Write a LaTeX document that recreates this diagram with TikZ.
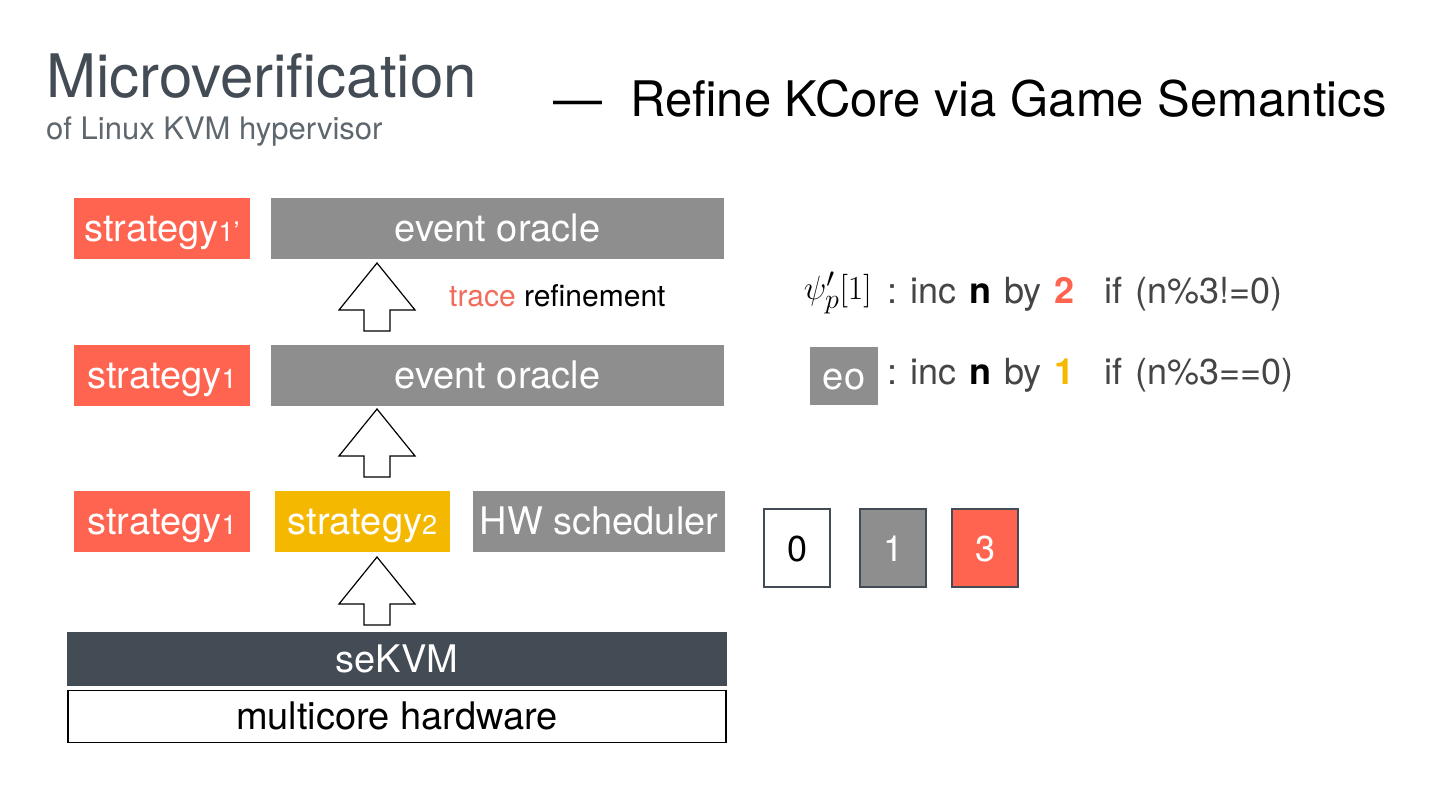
\documentclass[tikz,border=0pt]{standalone}
\usepackage{fontspec}
\setmainfont{TeX Gyre Heros}
\usepackage{tikz}
\definecolor{kred}{HTML}{FF6450}
\definecolor{kgray}{HTML}{8E8E8E}
\definecolor{kyellow}{HTML}{F5B800}
\definecolor{kslate}{HTML}{434C55}
\definecolor{ktext}{HTML}{454545}
\definecolor{ktrace}{HTML}{F26B5B}
\tikzset{box/.style={inner sep=0pt, text=white,
    font=\fontsize{38}{42}\selectfont, text height=32pt, text depth=6pt}}
\tikzset{redbox/.style={box, fill=kred, minimum width=176pt, minimum height=61pt}}
\tikzset{graybox/.style={box, fill=kgray, minimum height=61pt}}
\tikzset{digit/.style={box, font=\fontsize{36}{40}\selectfont, draw=kslate, line width=1.6pt, minimum width=66pt, minimum height=78pt}}
\tikzset{hollow/.style={draw=black, fill=white, line width=1.2pt, line join=miter}}
\tikzset{rule/.style={anchor=base west, inner sep=0pt, text=ktext,
    font=\fontsize{36}{40}\selectfont}}
\newcommand{\gap}{\hspace{13pt}}

\begin{document}
\begin{tikzpicture}[x=1pt, y=-1pt]
    \useasboundingbox (0,0) rectangle (1440,810);

    % title
    \node[anchor=base west, inner sep=0pt, text=kslate, font=\fontsize{60}{66}\selectfont] (title) at (46,98) {Microverification};
    \node[anchor=base west, inner sep=0pt, text=kslate!85, font=\fontsize{31}{34}\selectfont] (subtitle) at (46,140) {of Linux KVM hypervisor};
    \node[anchor=base west, inner sep=0pt, font=\fontsize{49}{54}\selectfont] (dash) at (553,117) {—};
    \node[anchor=base west, inner sep=0pt, font=\fontsize{49}{54}\selectfont] (topic) at (630,117) {Refine KCore via Game Semantics};

    % layers
    \node[redbox] (S1p) at (162,228.5) {strategy{\fontsize{27}{30}\selectfont 1’}};
    \node[graybox, minimum width=453pt] (EOa) at (497.5,228.5) {event oracle};
    \node[redbox] (S1a) at (162,375) {strategy{\fontsize{27}{30}\selectfont 1}};
    \node[graybox, minimum width=453pt] (EOb) at (497.5,375) {event oracle};
    \node[redbox] (S1b) at (162,521) {strategy{\fontsize{27}{30}\selectfont 1}};
    \node[box, fill=kyellow, minimum width=175pt, minimum height=61pt] (S2) at (362.5,521) {strategy{\fontsize{27}{30}\selectfont 2}};
    \node[graybox, minimum width=252pt] (HW) at (599,521) {HW scheduler};
    \node[box, fill=kslate, minimum width=660pt, minimum height=54pt] (SE) at (397,659) {seKVM};
    \node[box, text=black, draw=black, line width=1.8pt, minimum width=658pt, minimum height=52pt] (MC) at (397,716.5) {multicore hardware};

    % refinement arrows
    \foreach \ty in {263,409,557}
        \draw[hollow] (377,\ty) -- ++(38,47) -- ++(-25,0) -- ++(0,21) -- ++(-26,0) -- ++(0,-21) -- ++(-25,0) -- cycle;
    \node[anchor=base west, inner sep=0pt, font=\fontsize{30}{33}\selectfont] (tr) at (449,307) {\textcolor{ktrace}{trace} refinement};

    % game rules
    \node[anchor=base east, inner sep=0pt, font=\Huge, scale=1.35] (psi) at (872,300) {$\psi'_p[1]$};
    \node[rule] (r1) at (887,303) {:\gap inc\gap\textcolor{black}{\textbf{n}}\gap by\gap\textcolor{kred}{\textbf{2}}\hspace{30pt}if\hspace{13pt}(n\%3!=0)};
    \node[box, fill=kgray, minimum width=68pt, minimum height=58pt] (eo) at (844,376) {eo};
    \node[rule] (r2) at (887,384) {:\gap inc\gap\textcolor{black}{\textbf{n}}\gap by\gap\textcolor{kyellow}{\textbf{1}}\hspace{30pt}if\hspace{13pt}(n\%3==0)};

    % counters
    \node[digit, fill=white, text=black] (c0) at (797,548) {0};
    \node[digit, fill=kgray] (c1) at (893,548) {1};
    \node[digit, fill=kred] (c3) at (985,548) {3};

\end{tikzpicture}
\end{document}
